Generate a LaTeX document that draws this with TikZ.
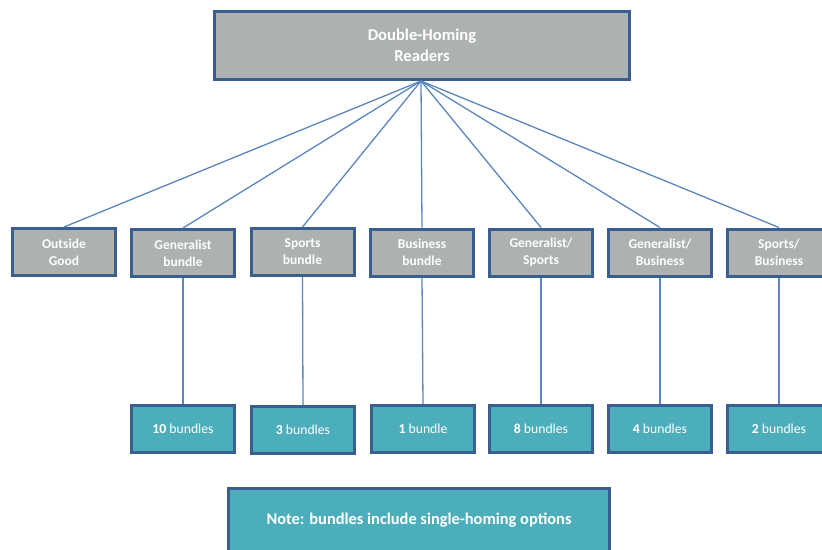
\documentclass[tikz,border=0pt]{standalone}
\usepackage{fontspec}
\setmainfont{Carlito}
\definecolor{bordblue}{HTML}{3A5F8E}
\definecolor{linkblue}{HTML}{5B86BE}
\definecolor{boxgray}{HTML}{ADB1B1}
\definecolor{boxteal}{HTML}{4DAEBB}
\tikzset{
  base/.style={draw=bordblue, line width=3pt, text=white, align=center, inner sep=0pt},
  topbox/.style={base, fill=boxgray, minimum width=415pt, minimum height=68pt, font=\fontsize{16.6}{21}\selectfont\bfseries},
  catbox/.style={base, fill=boxgray, minimum width=103pt, minimum height=47pt, font=\fontsize{13.5}{17}\selectfont\bfseries},
  numbox/.style={base, fill=boxteal, minimum width=103pt, minimum height=47pt, font=\fontsize{13.7}{17}\selectfont},
  notebox/.style={base, fill=boxteal, minimum width=381pt, minimum height=64pt, font=\fontsize{16.4}{20}\selectfont\bfseries},
  link/.style={draw=linkblue, line width=1.3pt}
}
\begin{document}
\begin{tikzpicture}[x=1pt,y=-1pt]
\clip (0,0) rectangle (822,549);
\fill[white] (0,0) rectangle (822,549);
\node[topbox] (top) at (422,45.5) {Double-Homing\\Readers};
\coordinate (hub) at (421,81);
\node[catbox] (c1) at (64,252) {Outside\\Good};
\node[catbox] (c2) at (183,253) {Generalist\\bundle};
\node[catbox] (c3) at (302.5,252) {Sports\\bundle};
\node[catbox] (c4) at (422,252.5) {Business\\bundle};
\node[catbox] (c5) at (541,252.5) {Generalist/\\Sports};
\node[catbox] (c6) at (660,252.5) {Generalist/\\Business};
\node[catbox] (c7) at (779,252.5) {Sports/\\Business};
\node[numbox] (n2) at (183,429) {\textbf{10} bundles};
\node[numbox] (n3) at (303,430) {\textbf{3} bundles};
\node[numbox] (n4) at (423,429) {\textbf{1} bundle};
\node[numbox] (n5) at (541,429) {\textbf{8} bundles};
\node[numbox] (n6) at (660,429) {\textbf{4} bundles};
\node[numbox] (n7) at (779,429) {\textbf{2} bundles};
\node[notebox] (note) at (419,520) {Note: bundles include single-homing options};
\foreach \i in {1,...,7} {\draw[link] (hub) -- (c\i.north);}
\foreach \i in {2,...,7} {\draw[link] (c\i.south) -- (n\i.north);}
\end{tikzpicture}
\end{document}
